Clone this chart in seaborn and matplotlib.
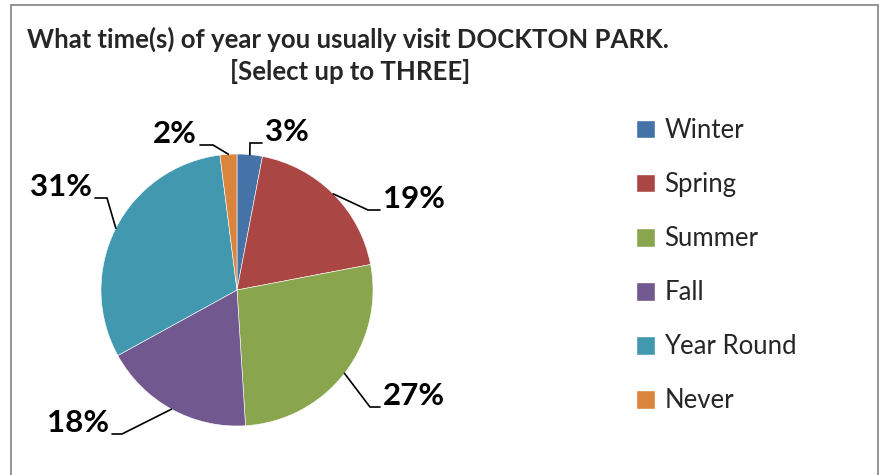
"""
Pie chart: times of year visitors usually go to Dockton Park.
"""

import matplotlib.pyplot as plt
import numpy as np
import seaborn as sns
from matplotlib.patches import Rectangle

# data
seasons = ["Winter", "Spring", "Summer", "Fall", "Year Round", "Never"]
shares = [3, 19, 27, 18, 31, 2]
label_texts = ["3%", "19%", "27%", "18%", "31%", "2%"]
slice_colors = ["#4572A7", "#AA4643", "#89A54E", "#71588F", "#4198AF", "#DB843D"]

W, H = 880, 475

sns.set_theme(style="white")
plt.rcParams["font.family"] = ["Lato", "DejaVu Sans"]

fig = plt.figure(figsize=(W / 100, H / 100), dpi=100)
ax = fig.add_axes([0, 0, 1, 1])


def py(y_pix):
    # pixel row (from top) -> data y
    return H - y_pix


# pie
center = (237, py(290))
radius = 136
palette = sns.color_palette(slice_colors)
wedges, _ = ax.pie(shares, colors=palette, startangle=90, counterclock=False,
                   center=center, radius=radius, frame=True,
                   wedgeprops=dict(edgecolor="white", linewidth=0.4))
ax.set_xlim(0, W)
ax.set_ylim(0, H)
ax.set_aspect("equal")
ax.axis("off")

# chart frame
ax.add_patch(Rectangle((11, py(H + 5)), W - 12.5, H + 0.5, fill=False,
                       edgecolor="#8c8c8c", linewidth=1.3))

# leader line elbows / ends (pixel layout) per slice
elbows = [(250, 143), (368, 210), (370, 407), (122, 434), (107, 198), (213, 145)]
ends = [(262, 143), (380, 210), (380, 407), (112, 434), (95, 198), (200, 145)]

for w, txt, (ex, ey), (tx, ty) in zip(wedges, label_texts, elbows, ends):
    theta = np.deg2rad((w.theta1 + w.theta2) / 2)
    sx = center[0] + radius * np.cos(theta)
    sy = center[1] + radius * np.sin(theta)
    ax.plot([sx, ex, tx], [sy, py(ey), py(ty)], color="black", linewidth=1.2,
            solid_joinstyle="miter")
    right = tx > ex
    ax.text(tx + (3 if right else -3), py(ty) + 2, txt,
            ha="left" if right else "right", va="baseline",
            fontsize=22.5, fontweight="bold", color="black")

# title
title_kw = dict(ha="center", va="baseline", fontsize=18.5, fontweight="bold")
fig.text(348 / W, 1 - 48 / H, "What time(s) of year you usually visit DOCKTON PARK.",
         **title_kw)
fig.text(350 / W, 1 - 80 / H, "[Select up to THREE]", **title_kw)

# legend
handles = [Rectangle((0, 0), 1, 1, facecolor=c) for c in palette]
ax.legend(handles, seasons, loc="upper left", bbox_to_anchor=(636 / W, 1 - 118 / H),
          frameon=False, fontsize=18.5, handlelength=0.75, handleheight=0.75,
          handletextpad=0.35, labelspacing=1.13, borderaxespad=0, borderpad=0)

fig.savefig("out.png", dpi=100)
